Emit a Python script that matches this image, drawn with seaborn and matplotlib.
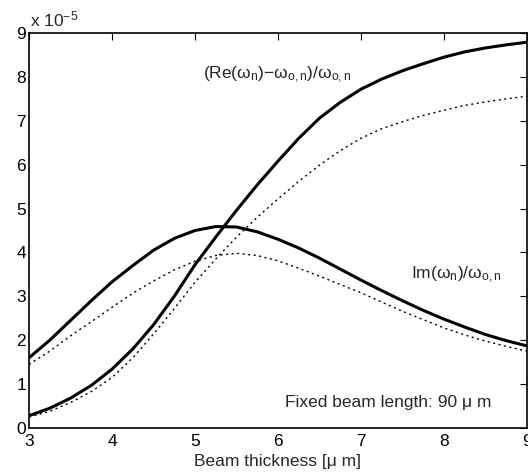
import numpy as np
import pandas as pd
import matplotlib
matplotlib.use("Agg")
import matplotlib.pyplot as plt
import seaborn as sns

# Beam thickness [um]
thickness = [3.0, 3.25, 3.5, 3.75, 4.0, 4.25, 4.5, 4.75, 5.0, 5.25, 5.5, 5.75,
             6.0, 6.25, 6.5, 6.75, 7.0, 7.25, 7.5, 7.75, 8.0, 8.25, 8.5, 8.75, 9.0]

# values in units of 1e-5
re_solid = [0.28, 0.45, 0.68, 0.97, 1.34, 1.80, 2.35, 3.00, 3.72, 4.35, 4.96, 5.54,
            6.08, 6.60, 7.06, 7.42, 7.72, 7.95, 8.14, 8.30, 8.45, 8.57, 8.66, 8.73, 8.79]
re_dotted = [0.25, 0.38, 0.58, 0.83, 1.15, 1.60, 2.14, 2.72, 3.32, 3.85, 4.35, 4.80,
             5.22, 5.62, 5.99, 6.32, 6.60, 6.82, 6.98, 7.12, 7.24, 7.35, 7.43, 7.50, 7.56]
im_solid = [1.60, 2.00, 2.45, 2.90, 3.33, 3.70, 4.05, 4.32, 4.50, 4.59, 4.58, 4.47,
            4.30, 4.10, 3.87, 3.62, 3.37, 3.13, 2.90, 2.68, 2.48, 2.30, 2.13, 1.99, 1.87]
im_dotted = [1.45, 1.75, 2.10, 2.42, 2.75, 3.07, 3.35, 3.60, 3.80, 3.93, 3.98, 3.93,
             3.81, 3.64, 3.46, 3.27, 3.08, 2.87, 2.66, 2.47, 2.28, 2.12, 1.98, 1.86, 1.75]

x_ticks = [3, 4, 5, 6, 7, 8, 9]
y_ticks = [0, 1, 2, 3, 4, 5, 6, 7, 8, 9]

sns.set_style("white")
plt.rcParams["font.family"] = ["Liberation Sans", "DejaVu Sans"]
plt.rcParams["mathtext.fontset"] = "custom"
plt.rcParams["mathtext.rm"] = "Liberation Sans"
plt.rcParams["mathtext.it"] = "Liberation Sans"
plt.rcParams["mathtext.bf"] = "Liberation Sans:bold"

FS = 12.5

fig = plt.figure(figsize=(5.28, 4.74), dpi=100)
ax = fig.add_axes([29 / 528, 46 / 474, 498 / 528, 395 / 474])

df = pd.DataFrame({"x": thickness, "re_s": re_solid, "re_d": re_dotted,
                   "im_s": im_solid, "im_d": im_dotted})

dot = (0, (1.5, 2.5))
sns.lineplot(data=df, x="x", y="re_d", ax=ax, color="black", lw=1.0,
             linestyle=dot, errorbar=None)
sns.lineplot(data=df, x="x", y="im_d", ax=ax, color="black", lw=1.0,
             linestyle=dot, errorbar=None)
sns.lineplot(data=df, x="x", y="re_s", ax=ax, color="black", lw=2.2, errorbar=None)
sns.lineplot(data=df, x="x", y="im_s", ax=ax, color="black", lw=2.2, errorbar=None)

ax.set_xlim(3, 9)
ax.set_ylim(0, 9)
ax.set_xticks(x_ticks)
ax.set_yticks(y_ticks)
ax.set_xticklabels([str(t) for t in x_ticks])
ax.set_yticklabels([str(t) for t in y_ticks])
ax.tick_params(direction="in", length=5, width=0.8, top=True, right=True,
               labelsize=FS, colors="black")
ax.tick_params(axis="x", pad=4)
ax.tick_params(axis="y", pad=2)
for s in ax.spines.values():
    s.set_visible(True)
    s.set_color("black")
    s.set_linewidth(1.2)

ax.set_xlabel("Beam thickness [μ m]", fontsize=FS, labelpad=4)
ax.set_ylabel("")

ax.text(5.1, 8.05, r"(Re(ω$_\mathrm{n}$)−ω$_\mathrm{o,n}$)/ω$_\mathrm{o,n}$",
        fontsize=FS, ha="left", va="center")
ax.text(7.6, 3.5, r"Im(ω$_\mathrm{n}$)/ω$_\mathrm{o,n}$",
        fontsize=FS, ha="left", va="center")
ax.text(6.08, 0.57, "Fixed beam length: 90 μ m", fontsize=FS, ha="left", va="center")
ax.text(0.003, 1.008, r"x 10$^{-5}$", transform=ax.transAxes, fontsize=FS,
        ha="left", va="bottom")

fig.savefig("out.png", dpi=100)
